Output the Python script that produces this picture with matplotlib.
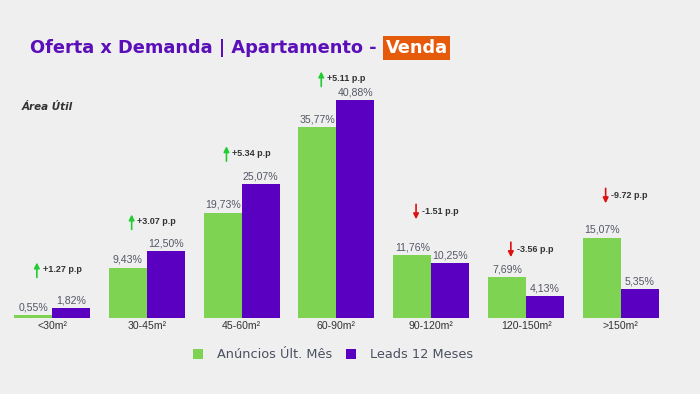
import matplotlib
matplotlib.use("Agg")
import matplotlib.pyplot as plt
import numpy as np

# data
categories = ["<30m²", "30-45m²", "45-60m²", "60-90m²", "90-120m²", "120-150m²", ">150m²"]
anuncios = [0.55, 9.43, 19.73, 35.77, 11.76, 7.69, 15.07]
leads = [1.82, 12.50, 25.07, 40.88, 10.25, 4.13, 5.35]

# layout: height (in %) of the p.p annotations
ann_y = [9.0, 18.0, 30.8, 44.8, 19.9, 12.8, 22.9]

GREEN = "#7ed352"
PURPLE = "#5a00c0"
BG = "#efefef"

fig = plt.figure(figsize=(7, 3.94), dpi=100)
fig.patch.set_facecolor(BG)
ax = fig.add_axes([0.0066, 0.1929, 0.948, 0.65])
ax.set_facecolor(BG)

x = np.arange(len(categories))
w = 0.4
b1 = ax.bar(x - w/2, anuncios, w, color=GREEN, label="Anúncios Últ. Mês")
b2 = ax.bar(x + w/2, leads, w, color=PURPLE, label="Leads 12 Meses")

fmt = lambda v: f"{v:.2f}%".replace(".", ",")
for bars, vals in ((b1, anuncios), (b2, leads)):
    for r, v in zip(bars, vals):
        ax.annotate(fmt(v), (r.get_x() + r.get_width()/2, v), xytext=(0, 2),
                    textcoords="offset points", ha="center", va="bottom",
                    fontsize=7.6, color="#545866", family="Liberation Sans")

# p.p differences with arrows
for i, (a, l) in enumerate(zip(anuncios, leads)):
    d = l - a
    ax_x = x[i] - 0.16
    y = ann_y[i]
    if d >= 0:
        col = "#22cc33"
        start, end = y - 1.4, y + 1.4
        txt = f"+{d:.2f} p.p"
    else:
        col = "#e01010"
        start, end = y + 1.4, y - 1.4
        txt = f"{d:.2f} p.p"
    ax.annotate("", xy=(ax_x, end), xytext=(ax_x, start),
                arrowprops=dict(arrowstyle="-|>", color=col, lw=1.2, mutation_scale=8,
                                shrinkA=0, shrinkB=0))
    ax.text(ax_x + 0.06, y, txt, ha="left", va="center", fontsize=6.5,
            fontweight="bold", color="#333333", family="Liberation Sans")

ax.set_xlim(-0.5, 6.5)
ax.set_ylim(0, 48)
ax.set_xticks(x)
ax.set_xticklabels(categories, fontsize=7.6, color="#333333", family="Liberation Sans")
ax.tick_params(axis="x", length=0, pad=2)
ax.set_yticks([])
for s in ax.spines.values():
    s.set_visible(False)

# title
t1 = fig.text(0.043, 0.878, "Oferta x Demanda | Apartamento - ", fontsize=12.8,
              fontweight="bold", color="#5a0fb8", va="center", ha="left")
fig.canvas.draw()
ax.annotate("Venda", xy=(1, 0.5), xycoords=t1, xytext=(2, 0), textcoords="offset points",
            va="center", ha="left", fontsize=12.8, fontweight="bold", color="white",
            bbox=dict(boxstyle="square,pad=0.15", fc="#e65a0c", ec="none"),
            annotation_clip=False)

fig.text(0.031, 0.728, "Área Útil", fontsize=7.5, fontstyle="italic",
         fontweight="bold", color="#333333", va="center")

fig.legend(handles=[b1, b2], loc="center", bbox_to_anchor=(0.476, 0.099), ncol=2,
           frameon=False, fontsize=9.3, handlelength=0.75, handleheight=0.75,
           handletextpad=1.1, columnspacing=1.1, labelcolor="#4a5060")

fig.savefig("out.png", dpi=100, facecolor=BG)
